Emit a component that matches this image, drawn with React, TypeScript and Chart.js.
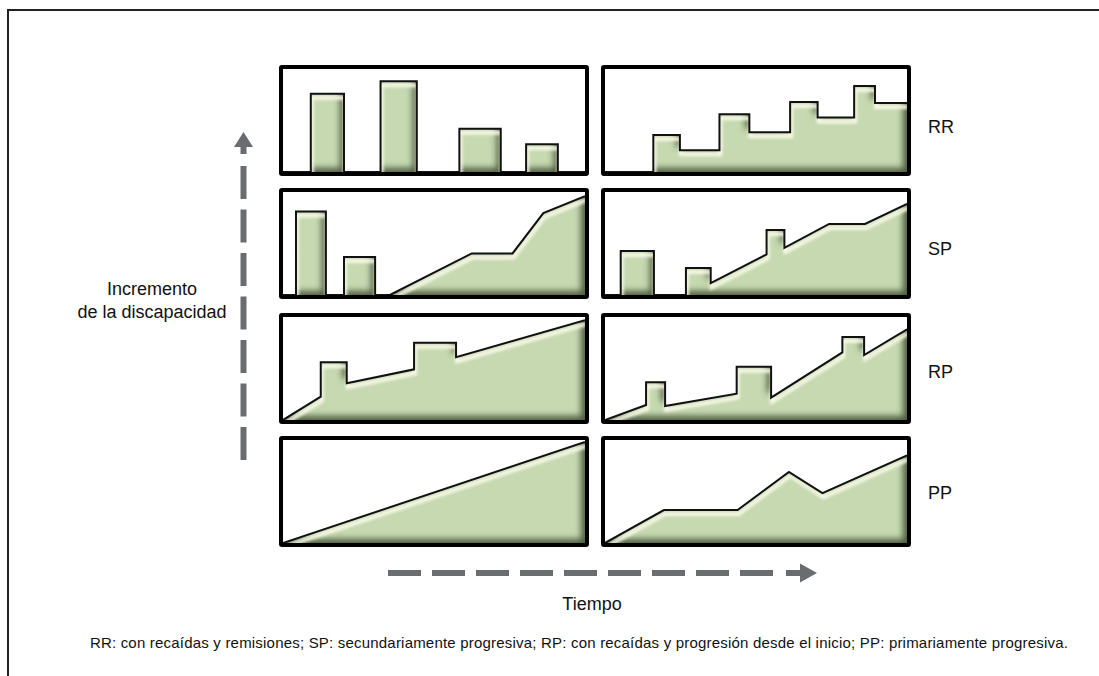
import React, { useEffect, useRef } from "react";
import { Chart, registerables } from "chart.js";

Chart.register(...registerables);

// ---------- text ----------
const rowLabels = ["RR", "SP", "RP", "PP"];
const yAxisLabel = ["Incremento", "de la discapacidad"];
const xAxisLabel = "Tiempo";
const footnote =
  "RR: con recaídas y remisiones; SP: secundariamente progresiva; RP: con recaídas y progresión desde el inicio; PP: primariamente progresiva.";

// ---------- data (time 0-100, disability 0-100) ----------
// RR – left (relapses with full recovery)
const rrLeftX = [0, 9.2, 9.2, 20.2, 20.2, 32.3, 32.3, 44.3, 44.3, 58.4, 58.4, 72.1, 72.1, 80.5, 80.5, 91, 91, 100];
const rrLeftY = [0, 0, 76, 76, 0, 0, 88, 88, 0, 0, 42, 42, 0, 0, 27, 27, 0, 0];
// RR – right (relapses with residual deficit)
const rrRightX = [0, 16, 16, 24.8, 24.8, 37.9, 37.9, 47.8, 47.8, 61.3, 61.3, 70.4, 70.4, 82.5, 82.5, 89.4, 89.4, 100];
const rrRightY = [0, 0, 36, 36, 21, 21, 56, 56, 38.5, 38.5, 68, 68, 53, 53, 83.5, 83.5, 67, 67];
// SP – left
const spLeftX = [0, 4.3, 4.3, 14.2, 14.2, 20.2, 20.2, 30.5, 30.5, 35.4, 62.5, 76, 86.2, 100];
const spLeftY = [0, 0, 81, 81, 0, 0, 37, 37, 0, 0, 40.4, 40.4, 79.5, 96];
// SP – right
const spRightX = [0, 5.2, 5.2, 16.2, 16.2, 26.8, 26.8, 35, 35, 53.5, 53.5, 59.4, 59.4, 74.2, 86.1, 100];
const spRightY = [0, 0, 42.6, 42.6, 0, 0, 26.3, 26.3, 11.5, 39.4, 63, 63, 45.8, 69, 69, 88.5];
// RP – left
const rpLeftX = [0, 12.5, 12.5, 21.1, 21.1, 43.4, 43.4, 57.3, 57.3, 100];
const rpLeftY = [0, 22.6, 56, 56, 35.6, 49.2, 75, 75, 60.9, 97];
// RP – right
const rpRightX = [0, 13.6, 13.6, 19.9, 19.9, 43.6, 43.6, 55, 55, 78.6, 78.6, 85.8, 85.8, 100];
const rpRightY = [0, 14.6, 36.6, 36.6, 13.6, 25.6, 51.8, 51.8, 21.7, 65.7, 80.6, 80.6, 63.1, 88];
// PP – left
const ppLeftX = [0, 100];
const ppLeftY = [0, 98];
// PP – right
const ppRightX = [0, 19.5, 43.9, 60.9, 72, 100];
const ppRightY = [0, 32, 32, 69, 48.4, 85];

const panelData = [
  [[rrLeftX, rrLeftY], [rrRightX, rrRightY]],
  [[spLeftX, spLeftY], [spRightX, spRightY]],
  [[rpLeftX, rpLeftY], [rpRightX, rpRightY]],
  [[ppLeftX, ppLeftY], [ppRightX, ppRightY]],
];

// ---------- layout / style ----------
const COL_LEFT = [279, 601];
const ROW_TOP = [65, 188, 313, 436];
const LABEL_Y = [127, 249, 372, 493];
const PW = 310;
const PH = 111;
const BORDER = 4;
const FILL = "#c6d9b1";
const FONT = '"Liberation Sans", Arial, Helvetica, sans-serif';
const ARROW = "#6b6c6e";

const bevelPlugin = {
  id: "bevel",
  beforeDatasetDraw(chart: any, args: any) {
    const pts = args.meta.data;
    if (!pts || pts.length < 2) return;
    const ctx: CanvasRenderingContext2D = chart.ctx;
    const yBase = chart.scales.y.getPixelForValue(0);
    const shape = new Path2D();
    shape.moveTo(pts[0].x, yBase);
    for (const p of pts) shape.lineTo(p.x, p.y);
    shape.lineTo(pts[pts.length - 1].x, yBase);
    shape.closePath();

    // outline of the top edge only (for the light bevel)
    const top = new Path2D();
    top.moveTo(pts[0].x, pts[0].y);
    for (const p of pts) top.lineTo(p.x, p.y);

    ctx.save();
    ctx.clip(shape);

    // dark bevel on bottom / right: inner shadow
    const W = chart.width;
    const H = chart.height;
    ctx.beginPath();
    ctx.rect(-80, -80, W + 160, H + 160);
    ctx.fillStyle = "#000";
    ctx.shadowColor = "rgba(66,80,52,0.9)";
    ctx.shadowBlur = 6;
    ctx.shadowOffsetX = -4;
    ctx.shadowOffsetY = -4;
    // draw outer region as ring (rect minus shape) via evenodd
    const ring = new Path2D();
    ring.rect(-80, -80, W + 160, H + 160);
    ring.addPath(shape);
    ctx.fill(ring, "evenodd");

    // light bevel below the top edges
    ctx.shadowColor = "rgba(0,0,0,0)";
    ctx.shadowBlur = 0;
    ctx.shadowOffsetX = 0;
    ctx.shadowOffsetY = 0;
    ctx.translate(1, 4);
    ctx.filter = "blur(1.5px)";
    ctx.strokeStyle = "rgba(250,250,232,0.95)";
    ctx.lineWidth = 4;
    ctx.lineJoin = "miter";
    ctx.stroke(top);
    ctx.filter = "none";
    ctx.restore();
  },
};

function Panel({ xs, ys, left, top }: { xs: number[]; ys: number[]; left: number; top: number }) {
  const ref = useRef<HTMLCanvasElement>(null);
  useEffect(() => {
    if (!ref.current) return;
    const chart = new Chart(ref.current, {
      type: "line",
      data: {
        datasets: [
          {
            data: xs.map((x, i) => ({ x, y: ys[i] })),
            borderColor: "#111",
            borderWidth: 2,
            backgroundColor: FILL,
            fill: "origin",
            pointRadius: 0,
            tension: 0,
            borderJoinStyle: "miter",
          } as any,
        ],
      },
      options: {
        animation: false,
        responsive: false,
        devicePixelRatio: 1,
        events: [],
        layout: { padding: 0 },
        plugins: { legend: { display: false }, tooltip: { enabled: false } },
        scales: {
          x: { type: "linear", min: 0, max: 100, display: false },
          y: { type: "linear", min: 0, max: 100, display: false },
        },
      },
      plugins: [bevelPlugin as any],
    });
    return () => chart.destroy();
  }, []);
  return (
    <div
      style={{
        position: "absolute",
        left,
        top,
        width: PW,
        height: PH,
        border: `${BORDER}px solid #000`,
        boxSizing: "border-box",
        borderRadius: 3,
        background: "#fff",
      }}
    >
      <canvas ref={ref} width={PW - 2 * BORDER} height={PH - 2 * BORDER} style={{ display: "block" }} />
    </div>
  );
}

export default function App() {
  return (
    <div
      style={{
        position: "absolute",
        left: 0,
        top: 0,
        width: 1099,
        height: 676,
        overflow: "hidden",
        background: "#fff",
        fontFamily: FONT,
        color: "#111",
      }}
    >
      <div
        style={{
          position: "absolute",
          left: 7,
          top: 9,
          width: 1200,
          height: 800,
          borderTop: "2px solid #222",
          borderLeft: "2px solid #222",
        }}
      />
      {panelData.map((row, r) =>
        row.map(([xs, ys], c) => (
          <Panel key={`${r}-${c}`} xs={xs} ys={ys} left={COL_LEFT[c]} top={ROW_TOP[r]} />
        ))
      )}
      {rowLabels.map((t, r) => (
        <div
          key={t}
          style={{
            position: "absolute",
            left: 928,
            top: LABEL_Y[r] - 10,
            fontSize: 18,
            lineHeight: "20px",
          }}
        >
          {t}
        </div>
      ))}
      <div
        style={{
          position: "absolute",
          left: 52,
          width: 200,
          top: 278,
          textAlign: "center",
          fontSize: 18,
          lineHeight: "23px",
        }}
      >
        {yAxisLabel.map((t) => (
          <div key={t}>{t}</div>
        ))}
      </div>
      <div
        style={{
          position: "absolute",
          left: 492,
          width: 200,
          top: 594,
          textAlign: "center",
          fontSize: 18,
          lineHeight: "20px",
        }}
      >
        {xAxisLabel}
      </div>
      <div
        style={{
          position: "absolute",
          left: 0,
          width: 1158,
          top: 634,
          textAlign: "center",
          fontSize: 15,
          letterSpacing: 0.2,
          lineHeight: "18px",
          whiteSpace: "nowrap",
        }}
      >
        {footnote}
      </div>
      <svg width={1099} height={676} style={{ position: "absolute", left: 0, top: 0 }}>
        <path d="M243.5 460 L243.5 164" stroke={ARROW} strokeWidth={6} strokeDasharray="33 10.5" fill="none" />
        <polygon points="243.5,132 253,147 234,147" fill={ARROW} />
        <rect x={240.5} y={145} width={6} height={9} fill={ARROW} />
        <path d="M388 573 L780 573" stroke={ARROW} strokeWidth={6} strokeDasharray="33 11" fill="none" />
        <rect x={786} y={570} width={14} height={6} fill={ARROW} />
        <polygon points="817,573 800,563.5 800,582.5" fill={ARROW} />
      </svg>
    </div>
  );
}
